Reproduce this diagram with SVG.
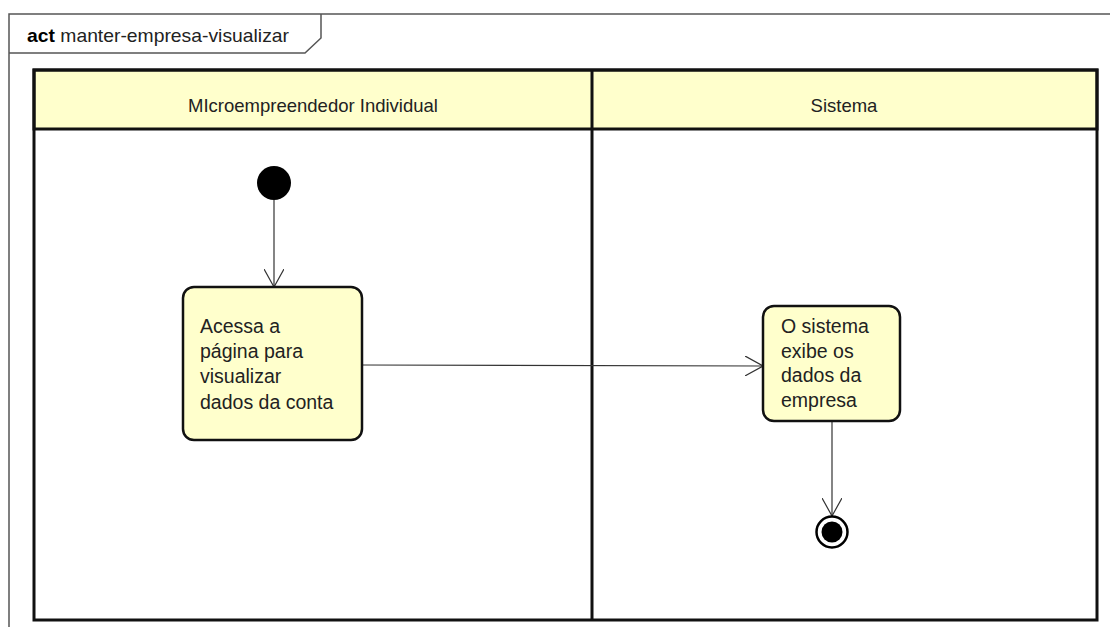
<svg xmlns="http://www.w3.org/2000/svg" width="1110" height="627" viewBox="0 0 1110 627">
<defs>
<style>
.t{font-family:"Liberation Sans",Arial,sans-serif;fill:#222}
.act{fill:#ffffcc;stroke:#111;stroke-width:2.5}
.lane{fill:none;stroke:#111;stroke-width:3}
.hdr{fill:#ffffcc;stroke:#111;stroke-width:3}
.edge{stroke:#333;stroke-width:1.2;fill:none}
</style>
<marker id="arr" viewBox="0 0 20 20" refX="18" refY="10" markerWidth="20" markerHeight="20" markerUnits="userSpaceOnUse" orient="auto">
<path d="M0,0 L18,10 L0,20" fill="none" stroke="#333" stroke-width="1.2"/>
</marker>
</defs>
<rect width="1110" height="627" fill="#fff"/>
<g id="frame">
<path d="M9,640 L9,14 L1120,14" fill="none" stroke="#555" stroke-width="1.5"/>
<path d="M9,53 L305,53 L321,38 L321,14" fill="none" stroke="#555" stroke-width="1.5"/>
<text x="27" y="42" class="t" font-size="18.5" textLength="262" lengthAdjust="spacingAndGlyphs"><tspan font-weight="bold" fill="#000">act</tspan> manter-empresa-visualizar</text>
</g>
<g id="lanes">
<rect x="34" y="70" width="1063" height="59" class="hdr"/>
<rect x="34" y="70" width="1063" height="550" class="lane"/>
<line x1="592" y1="70" x2="592" y2="620" stroke="#111" stroke-width="3"/>
<text x="313" y="112" class="t" font-size="18.5" text-anchor="middle">MIcroempreendedor Individual</text>
<text x="844" y="112" class="t" font-size="18.5" text-anchor="middle">Sistema</text>
</g>
<g id="connectors">
<line x1="274" y1="200" x2="274" y2="287" class="edge" marker-end="url(#arr)"/>
<line x1="362" y1="365" x2="763" y2="366" class="edge" marker-end="url(#arr)"/>
<line x1="832" y1="421" x2="832" y2="516" class="edge" marker-end="url(#arr)"/>
</g>
<g id="start">
<circle cx="274" cy="183" r="17" fill="#000"/>
</g>
<g id="a1">
<rect x="183" y="287" width="179" height="153" rx="11" class="act"/>
<text class="t" font-size="19.5"><tspan x="200" y="333">Acessa a</tspan><tspan x="200" y="358">página para</tspan><tspan x="200" y="383">visualizar</tspan><tspan x="200" y="409">dados da conta</tspan></text>
</g>
<g id="a2">
<rect x="763" y="306" width="137" height="115" rx="11" class="act"/>
<text class="t" font-size="19.5"><tspan x="781" y="333">O sistema</tspan><tspan x="781" y="358">exibe os</tspan><tspan x="781" y="382">dados da</tspan><tspan x="781" y="407">empresa</tspan></text>
</g>
<g id="end">
<circle cx="832" cy="532" r="15.5" fill="#fff" stroke="#000" stroke-width="2.5"/>
<circle cx="832" cy="532" r="10.5" fill="#000"/>
</g>
</svg>
